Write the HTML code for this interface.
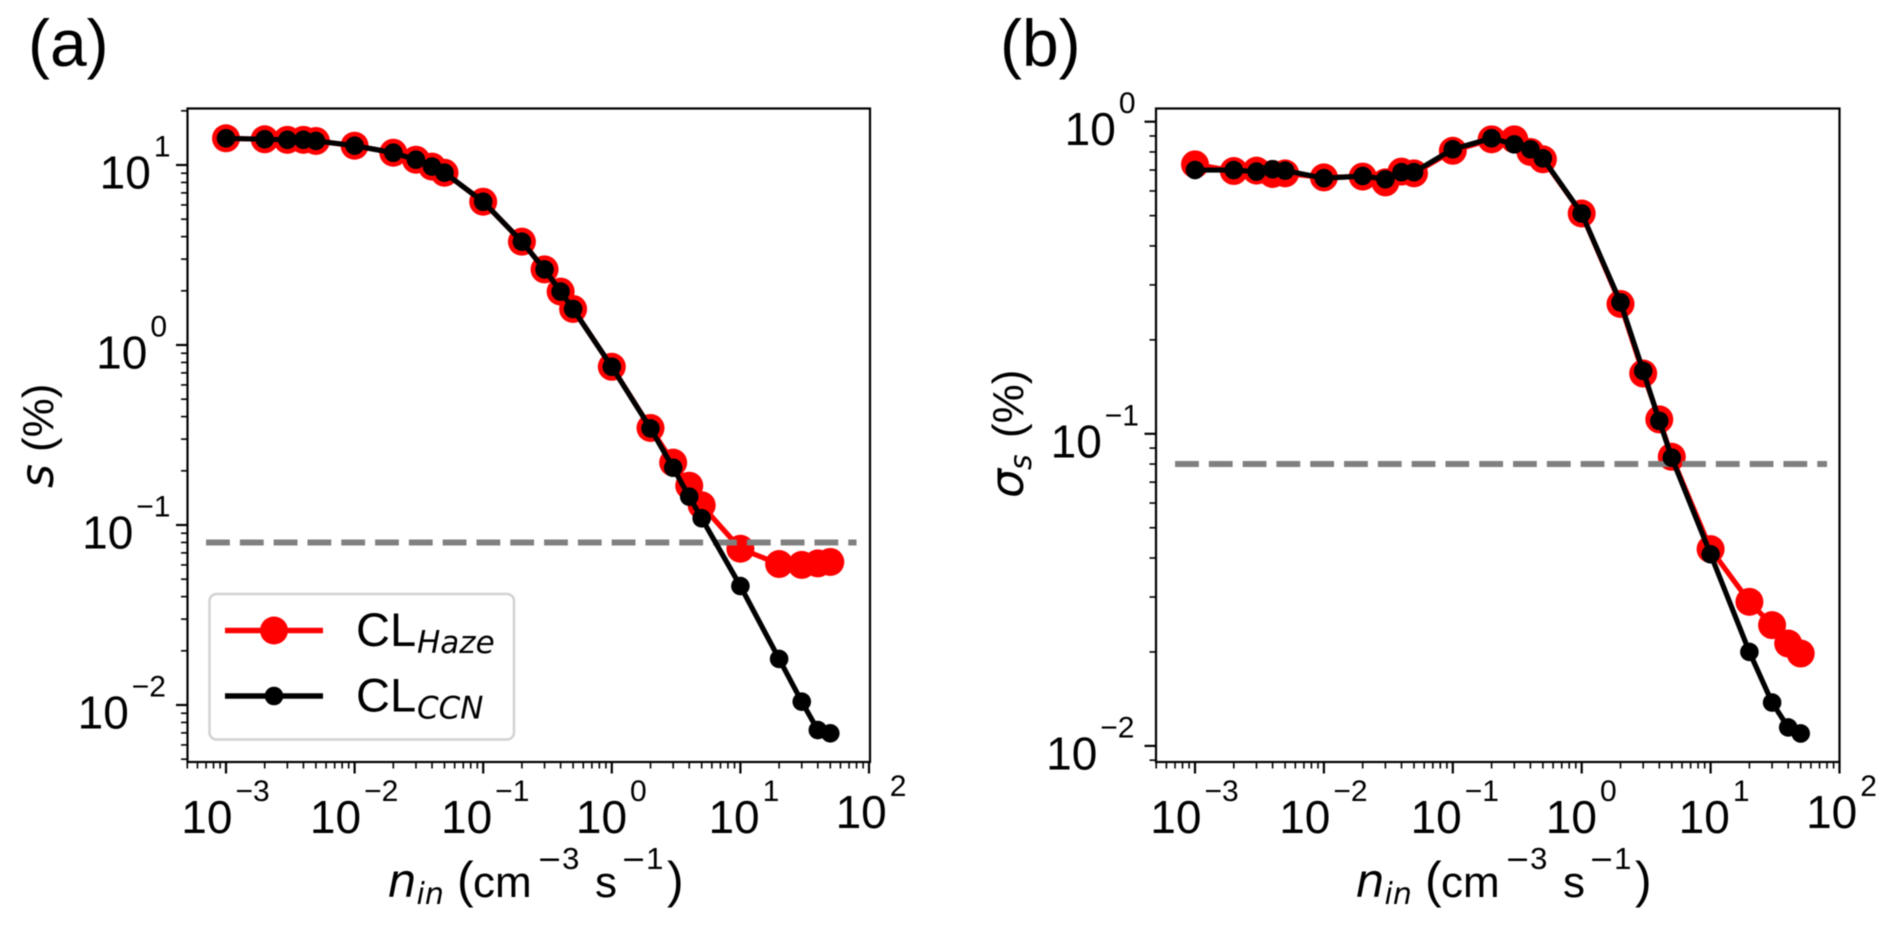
<!DOCTYPE html>
<html lang="en">
<head>
<meta charset="utf-8">
<title>Supersaturation vs nucleation rate</title>
<style>
html,body{margin:0;padding:0;background:#fff;width:1892px;height:926px;overflow:hidden}
svg{display:block;filter:blur(0.5px)}
text{font-family:"Liberation Sans",Arial,sans-serif;fill:#000}
.dv{font-family:"DejaVu Sans",sans-serif;font-style:oblique}
.dvn{font-family:"DejaVu Sans",sans-serif}
</style>
</head>
<body>
<svg id="figure" xmlns="http://www.w3.org/2000/svg" width="1892" height="926" viewBox="0 0 1892 926">
  <rect x="0" y="0" width="1892" height="926" fill="#fff"/>
  <text x="28" y="66" font-size="66">(a)</text>
  <text x="1000" y="66" font-size="66">(b)</text>

  <g id="panel-a"></g>
  <g id="panel-b"></g>

  <text y="897" font-size="44"><tspan class="dv" x="387.5" font-size="46">n</tspan><tspan class="dv" x="416.5" dy="7" font-size="30">in</tspan><tspan x="457" dy="-7" font-size="50">(</tspan><tspan x="473">cm</tspan><tspan class="dvn" x="537" dy="-28" font-size="30">−</tspan><tspan font-size="31">3</tspan><tspan x="595" dy="28">s</tspan><tspan class="dvn" x="621" dy="-28" font-size="30">−</tspan><tspan font-size="31">1</tspan><tspan x="667" dy="28" font-size="50">)</tspan></text>
  <text y="897" font-size="44"><tspan class="dv" x="1355.5" font-size="46">n</tspan><tspan class="dv" x="1384.5" dy="7" font-size="30">in</tspan><tspan x="1425" dy="-7" font-size="50">(</tspan><tspan x="1441">cm</tspan><tspan class="dvn" x="1505" dy="-28" font-size="30">−</tspan><tspan font-size="31">3</tspan><tspan x="1563" dy="28">s</tspan><tspan class="dvn" x="1589" dy="-28" font-size="30">−</tspan><tspan font-size="31">1</tspan><tspan x="1635" dy="28" font-size="50">)</tspan></text>

  <text transform="translate(53,488) rotate(-90)" font-size="44"><tspan class="dv" font-size="46">s</tspan><tspan x="36">(%)</tspan></text>
  <text transform="translate(1023,498) rotate(-90)" font-size="44"><tspan class="dv" font-size="46">σ</tspan><tspan class="dv" x="28" dy="8" font-size="30">s</tspan><tspan x="60" dy="-8">(%)</tspan></text>

  <g>
    <rect x="209.5" y="594" width="304.5" height="145.5" rx="7" ry="7" fill="#fff" fill-opacity="0.8" stroke="#d2d2d2" stroke-width="2.5"/>
    <g>
      <line x1="225" x2="323" y1="630.5" y2="630.5" stroke="#ff0000" stroke-width="5.5"/>
      <circle cx="274" cy="630.5" r="14" fill="#ff0000"/>
      <text x="356" y="646" font-size="47">CL<tspan class="dv" x="417" y="653" font-size="31">Haze</tspan></text>
    </g>
    <g>
      <line x1="225" x2="323" y1="696" y2="696" stroke="#000" stroke-width="5.5"/>
      <circle cx="274" cy="696" r="9.3" fill="#000"/>
      <text x="356" y="711.5" font-size="47">CL<tspan class="dv" x="417" y="718.5" font-size="31">CCN</tspan></text>
    </g>
  </g>
</svg>
<script>
// Nucleation rate categories shared by every series (cm^-3 s^-1)
const nucleationRates = [0.001,0.002,0.003,0.004,0.005,0.01,0.02,0.03,0.04,0.05,0.1,0.2,0.3,0.4,0.5,1,2,3,4,5,10,20,30,40,50];

// Panel (a): mean supersaturation s (%)
const supersatHaze = [14.07,13.9,13.8,13.8,13.6,12.8,11.7,10.7,9.8,9.06,6.25,3.75,2.63,1.98,1.585,0.757,0.346,0.222,0.1653,0.1287,0.0738,0.0607,0.06,0.0612,0.0623];
const supersatCcn = [14.07,13.9,13.8,13.8,13.6,12.8,11.7,10.7,9.8,9.06,6.25,3.75,2.63,1.98,1.585,0.757,0.344,0.208,0.1436,0.109,0.0458,0.01802,0.01043,0.00726,0.00696];

// Panel (b): supersaturation standard deviation (%)
const sigmaHaze = [0.73,0.695,0.697,0.68,0.683,0.663,0.667,0.639,0.692,0.683,0.807,0.878,0.878,0.8,0.758,0.508,0.2606,0.156,0.1112,0.0844,0.0427,0.02895,0.02437,0.02128,0.01977];
const sigmaCcn = [0.7,0.7,0.692,0.704,0.697,0.659,0.67,0.654,0.689,0.689,0.816,0.885,0.846,0.816,0.763,0.508,0.2637,0.159,0.11,0.0838,0.0411,0.02,0.01377,0.01146,0.01096];

// Axis tick labels, as powers of ten
const xTickExponents = [-3,-2,-1,0,1,2];
const supersatTickExponents = [-2,-1,0,1];
const sigmaTickExponents = [-2,-1,0];

// Reference threshold line (value, x start, x end)
const thresholdValue = 0.08;
const thresholdStart = 0.0007;
const thresholdEnd = 80;

const SVG_NS = 'http://www.w3.org/2000/svg';

function make(parent, tag, attrs) {
  const node = document.createElementNS(SVG_NS, tag);
  for (const key in attrs) node.setAttribute(key, attrs[key]);
  parent.appendChild(node);
  return node;
}

function powerText(minus, exponent) {
  return (minus ? '\u2212' : '') + Math.abs(exponent);
}

// Labels are aligned by ink, and the glyph "1" carries a wide right bearing.
function yLabelInkShift(exp) {
  const last = Math.abs(exp);
  if (last === 1) return 4.5;
  if (last === 0) return 1;
  return 0;
}

function xLabelInkShift(exp) {
  if (exp === -1) return 2;
  if (exp === 1) return 3.5;
  if (exp === 2) return 2;
  return -0.5;
}

function drawPanel(root, frame, tickExponents, haze, ccn, prefix) {
  const xOf = v => frame.x0 + (Math.log10(v) + 3) * frame.xDecade;
  const yOf = v => frame.y0 - Math.log10(v) * frame.yDecade;

  // y minor and major ticks
  for (let e = -4; e <= 2; e++) {
    for (let m = 1; m <= 9; m++) {
      const v = m * Math.pow(10, e);
      const y = yOf(v);
      if (y < frame.top - 0.5 || y > frame.bottom + 0.5) continue;
      const len = m === 1 ? 11.5 : 6.5;
      const t = make(root, 'line', {x1: frame.left - len, x2: frame.left, y1: y, y2: y, stroke: '#000', 'stroke-width': m === 1 ? 2.2 : 1.6});
      
      
    }
  }
  // x minor and major ticks
  for (let e = -4; e <= 2; e++) {
    for (let m = 1; m <= 9; m++) {
      const v = m * Math.pow(10, e);
      const x = xOf(v);
      if (x < frame.left - 0.5 || x > frame.right + 1.5) continue;
      const len = m === 1 ? 11.5 : 6.5;
      const t = make(root, 'line', {x1: x, x2: x, y1: frame.bottom, y2: frame.bottom + len, stroke: '#000', 'stroke-width': m === 1 ? 2.2 : 1.6});
      
      
    }
  }

  // y tick labels
  tickExponents.forEach(exp => {
    const y = yOf(Math.pow(10, exp)) + 23.5;
    const label = make(root, 'text', {x: frame.left - 21.5 + yLabelInkShift(exp), y: y, 'font-size': 46, 'text-anchor': 'end'});
    
    
    label.appendChild(document.createTextNode('10'));
    const sup = make(label, 'tspan', {dx: 3, dy: -32, 'font-size': 30});
    sup.textContent = powerText(exp < 0, exp);
  });

  // x tick labels
  xTickExponents.forEach(exp => {
    const raised = exp === 2 ? 5 : 0;
    const x = xOf(Math.pow(10, exp)) + xLabelInkShift(exp);
    const label = make(root, 'text', {x: x, y: frame.bottom + 71 - raised, 'font-size': 46, 'text-anchor': 'middle'});
    
    
    label.appendChild(document.createTextNode('10'));
    const sup = make(label, 'tspan', {dx: 3, dy: -32, 'font-size': 30});
    sup.textContent = powerText(exp < 0, exp);
  });

  // Haze series
  const hazeLine = make(root, 'polyline', {points: nucleationRates.map((r, i) => xOf(r) + ',' + yOf(haze[i])).join(' '), fill: 'none', stroke: '#ff0000', 'stroke-width': 5.2, 'stroke-linejoin': 'round'});
  
  
  nucleationRates.forEach((r, i) => {
    const c = make(root, 'circle', {cx: xOf(r), cy: yOf(haze[i]), r: 14, fill: '#ff0000'});
    
    
  });

  // Threshold
  const dash = make(root, 'line', {x1: xOf(thresholdStart), x2: xOf(thresholdEnd), y1: yOf(thresholdValue), y2: yOf(thresholdValue), stroke: '#808080', 'stroke-width': 6, 'stroke-dasharray': '23.8 10'});
  
  

  // CCN series
  const ccnLine = make(root, 'polyline', {points: nucleationRates.map((r, i) => xOf(r) + ',' + yOf(ccn[i])).join(' '), fill: 'none', stroke: '#000', 'stroke-width': 5.2, 'stroke-linejoin': 'round'});
  
  
  nucleationRates.forEach((r, i) => {
    const c = make(root, 'circle', {cx: xOf(r), cy: yOf(ccn[i]), r: 9.3, fill: '#000'});
    
    
  });

  // Frame
  const box = make(root, 'rect', {x: frame.left, y: frame.top, width: frame.right - frame.left, height: frame.bottom - frame.top, fill: 'none', stroke: '#000', 'stroke-width': 2.2});
  
  
}

drawPanel(document.getElementById('panel-a'),
  {left: 187.5, right: 870, top: 108.5, bottom: 762, x0: 226, xDecade: 128.6, y0: 345, yDecade: 180},
  supersatTickExponents, supersatHaze, supersatCcn, 'panel-a');

drawPanel(document.getElementById('panel-b'),
  {left: 1156, right: 1839.5, top: 108.5, bottom: 762, x0: 1195, xDecade: 128.9, y0: 121.7, yDecade: 312.1},
  sigmaTickExponents, sigmaHaze, sigmaCcn, 'panel-b');
</script>
</body>
</html>
